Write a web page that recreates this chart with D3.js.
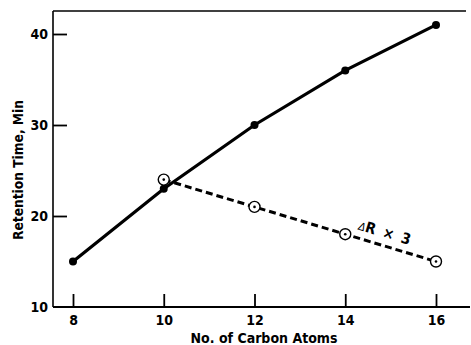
<!DOCTYPE html>
<html><head><meta charset="utf-8">
<script src="https://cdn.jsdelivr.net/npm/d3@7"></script>
<style>
body{margin:0;background:#fff;}
text{font-family:"DejaVu Sans Condensed","DejaVu Sans",sans-serif;font-stretch:condensed;font-weight:bold;fill:#000;}
</style></head>
<body><svg id="c" width="471" height="345"></svg>
<script>
const carbonAtoms = [8, 10, 12, 14, 16];
const retentionTime = [15, 23, 30, 36, 41];
const deltaCarbon = [10, 12, 14, 16];
const deltaR3 = [24, 21, 18, 15];
const xTicks = [8, 10, 12, 14, 16];
const yTicks = [10, 20, 30, 40];

const svg = d3.select("#c");
const x = d3.scaleLinear().domain([8, 16]).range([73, 436]);
const y = d3.scaleLinear().domain([10, 40]).range([307, 34]);
const x0 = x.invert(53), x1 = x.invert(470);
const yTop = y.invert(11);

// frame
svg.append("line").attr("x1", x(x0)).attr("x2", x(x1)).attr("y1", y(10)).attr("y2", y(10)).attr("stroke", "#000").attr("stroke-width", 2);
svg.append("line").attr("x1", x(x0)).attr("x2", x(x1) - 4).attr("y1", y(yTop)).attr("y2", y(yTop)).attr("stroke", "#000").attr("stroke-width", 1.6);
svg.append("line").attr("x1", x(x0)).attr("x2", x(x0)).attr("y1", y(yTop)).attr("y2", y(10)).attr("stroke", "#000").attr("stroke-width", 1.6);

// axes via d3
const xAxis = d3.axisBottom(x).tickValues(xTicks).tickSize(-13).tickPadding(8).tickFormat(d3.format("d"));
const gx = svg.append("g").attr("transform", `translate(0,${y(10)})`).call(xAxis);
gx.select(".domain").remove();
gx.selectAll(".tick line").attr("stroke", "#000").attr("stroke-width", 1.8);
gx.selectAll(".tick text").attr("font-size", 14).attr("font-family", null).attr("font-weight", "bold").attr("dy", "0.71em");

const yAxis = d3.axisLeft(y).tickValues(yTicks).tickSize(-14).tickPadding(20).tickFormat(d3.format("d"));
const gy = svg.append("g").attr("transform", `translate(${x(x0)},0)`).call(yAxis);
gy.select(".domain").remove();
gy.selectAll(".tick line").attr("stroke", "#000").attr("stroke-width", 1.8);
gy.selectAll(".tick text").attr("font-size", 14).attr("font-family", null).attr("font-weight", "bold").attr("x", -5);
gy.selectAll(".tick").filter(d => d === 10).select("line").remove();

// labels
svg.append("text").attr("x", 264).attr("y", 343).attr("text-anchor", "middle").attr("font-size", 14)
  .attr("textLength", 147).attr("lengthAdjust", "spacingAndGlyphs").text("No. of Carbon Atoms");
svg.append("text").attr("transform", "translate(22.5,170) rotate(-90)").attr("text-anchor", "middle").attr("font-size", 14)
  .attr("textLength", 140).attr("lengthAdjust", "spacingAndGlyphs").text("Retention Time, Min");

// solid series
const line = d3.line().x(d => x(d[0])).y(d => y(d[1]));
const solid = carbonAtoms.map((c, i) => [c, retentionTime[i]]);
svg.append("path").datum(solid).attr("d", line).attr("fill", "none").attr("stroke", "#000").attr("stroke-width", 3.2);
svg.selectAll(".dot").data(solid).enter().append("circle").attr("cx", d => x(d[0])).attr("cy", d => y(d[1])).attr("r", 4).attr("fill", "#000");

// dashed series
const dashed = deltaCarbon.map((c, i) => [c, deltaR3[i]]);
svg.append("path").datum(dashed).attr("d", line).attr("fill", "none").attr("stroke", "#000").attr("stroke-width", 3).attr("stroke-dasharray", "7,4");
const od = svg.selectAll(".od").data(dashed).enter().append("g").attr("transform", d => `translate(${x(d[0])},${y(d[1])})`);
od.append("circle").attr("r", 5.5).attr("fill", "#fff").attr("stroke", "#000").attr("stroke-width", 1.4);
od.append("circle").attr("r", 1.3).attr("fill", "#000");

// annotation
const ang = Math.atan2(y(15) - y(18), x(16) - x(14)) * 180 / Math.PI;
const ax = x(14.9) - 2, ay = y(18 - 3 * 0.45) - 9;
const t = svg.append("text").attr("transform", `translate(${ax},${ay}) rotate(${ang})`).attr("text-anchor", "middle").attr("font-size", 15);
t.append("tspan").attr("font-style", "italic").attr("font-weight", "normal").attr("font-size", 11).text("Δ");
t.append("tspan").text("R × 3").attr("letter-spacing", 1.5);
</script></body></html>
